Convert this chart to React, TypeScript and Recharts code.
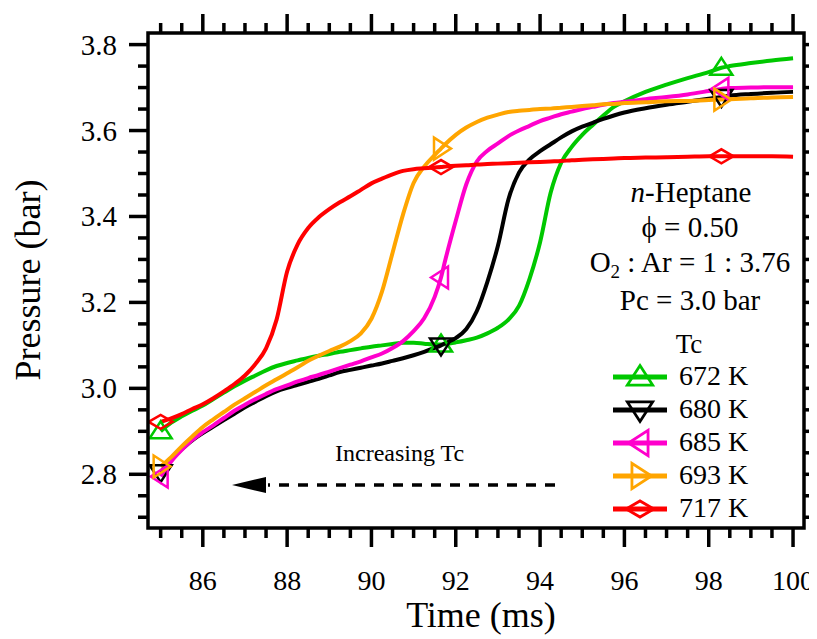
import React from 'react';
import { LineChart, Line, XAxis, YAxis } from 'recharts';

// Time (ms)
const times = [
  85, 85.25, 85.5, 85.75, 86, 86.25, 86.5, 86.75, 87, 87.25, 87.5, 87.75, 88, 88.25, 88.5, 88.75,
  89, 89.25, 89.5, 89.75, 90, 90.25, 90.5, 90.75, 91, 91.25, 91.5, 91.65, 91.75, 92, 92.25, 92.5,
  92.75, 93, 93.25, 93.5, 93.75, 94, 94.25, 94.5, 94.75, 95, 95.25, 95.5, 95.75, 96, 96.5, 97,
  97.5, 98, 98.3, 98.5, 99, 99.5, 100,
];

// Pressure (bar) per Tc
const p672 = [
  2.900, 2.920, 2.935, 2.948, 2.960, 2.975, 2.990, 3.005, 3.018, 3.030, 3.042, 3.052, 3.059, 3.065, 3.071, 3.076,
  3.080, 3.085, 3.089, 3.093, 3.097, 3.100, 3.103, 3.106, 3.106, 3.104, 3.102, 3.102, 3.103, 3.107, 3.112, 3.118,
  3.128, 3.141, 3.160, 3.192, 3.255, 3.340, 3.455, 3.525, 3.562, 3.590, 3.613, 3.635, 3.655, 3.668, 3.690, 3.707,
  3.722, 3.736, 3.746, 3.750, 3.757, 3.763, 3.768,
];
const p680 = [
  2.805, 2.835, 2.858, 2.879, 2.896, 2.911, 2.926, 2.941, 2.956, 2.969, 2.982, 2.993, 3.001, 3.008, 3.015, 3.022,
  3.030, 3.038, 3.043, 3.048, 3.053, 3.058, 3.064, 3.070, 3.077, 3.085, 3.094, 3.100, 3.105, 3.117, 3.138, 3.180,
  3.248, 3.332, 3.440, 3.502, 3.533, 3.552, 3.568, 3.584, 3.598, 3.609, 3.618, 3.627, 3.635, 3.642, 3.652, 3.660,
  3.667, 3.674, 3.678, 3.681, 3.685, 3.688, 3.690,
];
const p685 = [
  2.795, 2.830, 2.857, 2.880, 2.898, 2.914, 2.931, 2.948, 2.962, 2.975, 2.987, 2.998, 3.007, 3.016, 3.024, 3.031,
  3.039, 3.047, 3.055, 3.063, 3.072, 3.081, 3.094, 3.110, 3.133, 3.163, 3.213, 3.258, 3.298, 3.390, 3.475, 3.528,
  3.553, 3.570, 3.587, 3.600, 3.611, 3.622, 3.630, 3.638, 3.644, 3.650, 3.655, 3.660, 3.664, 3.667, 3.673, 3.678,
  3.684, 3.692, 3.697, 3.699, 3.700, 3.701, 3.701,
];
const p693 = [
  2.818, 2.840, 2.865, 2.888, 2.910, 2.928, 2.945, 2.962, 2.977, 2.992, 3.007, 3.021, 3.035, 3.049, 3.064, 3.076,
  3.087, 3.097, 3.110, 3.128, 3.162, 3.225, 3.315, 3.405, 3.478, 3.516, 3.543, 3.558, 3.568, 3.590, 3.607, 3.620,
  3.630, 3.637, 3.643, 3.646, 3.648, 3.650, 3.651, 3.653, 3.655, 3.657, 3.659, 3.661, 3.662, 3.664, 3.666, 3.668,
  3.669, 3.671, 3.672, 3.673, 3.675, 3.677, 3.678,
];
const p717 = [
  2.922, 2.930, 2.940, 2.952, 2.963, 2.977, 2.993, 3.010, 3.030, 3.057, 3.093, 3.160, 3.272, 3.335, 3.373, 3.398,
  3.417, 3.433, 3.447, 3.462, 3.477, 3.488, 3.498, 3.506, 3.510, 3.512, 3.514, 3.515, 3.516, 3.518, 3.519, 3.521,
  3.522, 3.523, 3.524, 3.525, 3.526, 3.527, 3.528, 3.529, 3.531, 3.532, 3.533, 3.534, 3.535, 3.536, 3.537, 3.538,
  3.539, 3.540, 3.540, 3.540, 3.540, 3.540, 3.539,
];

const markerTimes = [85, 91.65, 98.3];

const xTicks = [
  85, 85.5, 86, 86.5, 87, 87.5, 88, 88.5, 89, 89.5, 90, 90.5, 91, 91.5, 92, 92.5,
  93, 93.5, 94, 94.5, 95, 95.5, 96, 96.5, 97, 97.5, 98, 98.5, 99, 99.5, 100,
];
const yTicks = [
  2.7, 2.75, 2.8, 2.85, 2.9, 2.95, 3.0, 3.05, 3.1, 3.15, 3.2, 3.25, 3.3, 3.35, 3.4, 3.45,
  3.5, 3.55, 3.6, 3.65, 3.7, 3.75, 3.8,
];

const legendLabels = ['672 K', '680 K', '685 K', '693 K', '717 K'];
const seriesKeys = ['k672', 'k680', 'k685', 'k693', 'k717'];
const seriesColors = ['#00C800', '#000000', '#FF00CC', '#FFA500', '#FF0000'];
const seriesShapes = ['up', 'down', 'left', 'right', 'diamond'];

const data = times.map((t, i) => ({
  t,
  k672: p672[i],
  k680: p680[i],
  k685: p685[i],
  k693: p693[i],
  k717: p717[i],
}));

const FONT = 'Liberation Serif';
const W = 809;
const H = 631;

function markerPoints(shape: string, cx: number, cy: number, s: number): string {
  let pts: number[][];
  switch (shape) {
    case 'up':
      pts = [[0, -10], [11, 7], [-11, 7]];
      break;
    case 'down':
      pts = [[0, 10], [11, -7], [-11, -7]];
      break;
    case 'left':
      pts = [[-10, 0], [7, -11], [7, 11]];
      break;
    case 'right':
      pts = [[10, 0], [-7, -11], [-7, 11]];
      break;
    default:
      pts = [[-12, 0], [0, -7], [12, 0], [0, 7]];
  }
  return pts.map(([dx, dy]) => `${cx + dx * s},${cy + dy * s}`).join(' ');
}

const makeDot = (shape: string, color: string) => (props: any) => {
  const { cx, cy, payload, index } = props;
  if (cx == null || cy == null || !payload || !markerTimes.includes(payload.t)) {
    return <g key={`d-${index}`} />;
  }
  return (
    <polygon
      key={`d-${index}`}
      points={markerPoints(shape, cx, cy, 1)}
      fill="none"
      stroke={color}
      strokeWidth={2.5}
      strokeLinejoin="miter"
    />
  );
};

const isMajorX = (v: number) => Math.abs(v / 2 - Math.round(v / 2)) < 1e-6;
const isMajorY = (v: number) => Math.abs(v * 5 - Math.round(v * 5)) < 1e-6;

const BottomTick = (props: any) => {
  const { x, y, payload } = props;
  const v = payload.value;
  const maj = isMajorX(v);
  return (
    <g>
      <line x1={x} x2={x} y1={y} y2={y + (maj ? 19 : 10)} stroke="#000" strokeWidth={3.5} />
      {maj ? (
        <text x={x} y={y + 62} textAnchor="middle" fontFamily={FONT} fontSize={28} fill="#000">
          {String(v)}
        </text>
      ) : null}
    </g>
  );
};

const TopTick = (props: any) => {
  const { x, y, payload } = props;
  const maj = isMajorX(payload.value);
  return <line x1={x} x2={x} y1={y} y2={y - (maj ? 19 : 10)} stroke="#000" strokeWidth={3.5} />;
};

const LeftTick = (props: any) => {
  const { x, y, payload } = props;
  const v = payload.value;
  const maj = isMajorY(v);
  return (
    <g>
      <line x1={x} x2={x - (maj ? 19 : 10)} y1={y} y2={y} stroke="#000" strokeWidth={3.5} />
      {maj ? (
        <text x={x - 31} y={y + 10} textAnchor="end" fontFamily={FONT} fontSize={29} fill="#000">
          {v.toFixed(1)}
        </text>
      ) : null}
    </g>
  );
};

const RightTick = (props: any) => {
  const { x, y, payload } = props;
  const maj = isMajorY(payload.value);
  return <line x1={x} x2={x + (maj ? 19 : 10)} y1={y} y2={y} stroke="#000" strokeWidth={3.5} />;
};

const X_DOMAIN: [number, number] = [84.7, 100.26];
const Y_DOMAIN: [number, number] = [2.675, 3.827];

const PLOT_L = 140;
const PLOT_T = 25;
const PLOT_R = 796;
const PLOT_B = 520;

export default function App() {
  const legendBase = [377, 410, 443, 476, 509];
  return (
    <div style={{ position: 'relative', width: W, height: H, background: '#fff', fontFamily: FONT }}>
      <LineChart width={W} height={H} data={data} margin={{ top: 0, right: 0, bottom: 0, left: 0 }}>
        <XAxis
          xAxisId="b"
          dataKey="t"
          type="number"
          domain={X_DOMAIN}
          allowDataOverflow
          ticks={xTicks}
          interval={0}
          tick={BottomTick}
          tickLine={false}
          axisLine={false}
          tickSize={0}
          tickMargin={0}
          height={H - PLOT_B}
        />
        <XAxis
          xAxisId="t"
          orientation="top"
          dataKey="t"
          type="number"
          domain={X_DOMAIN}
          allowDataOverflow
          ticks={xTicks}
          interval={0}
          tick={TopTick}
          tickLine={false}
          axisLine={false}
          tickSize={0}
          tickMargin={0}
          height={PLOT_T}
        />
        <YAxis
          yAxisId="l"
          type="number"
          domain={Y_DOMAIN}
          allowDataOverflow
          ticks={yTicks}
          interval={0}
          tick={LeftTick}
          tickLine={false}
          axisLine={false}
          tickSize={0}
          tickMargin={0}
          width={PLOT_L}
        />
        <YAxis
          yAxisId="r"
          orientation="right"
          type="number"
          domain={Y_DOMAIN}
          allowDataOverflow
          ticks={yTicks}
          interval={0}
          tick={RightTick}
          tickLine={false}
          axisLine={false}
          tickSize={0}
          tickMargin={0}
          width={W - PLOT_R}
        />
        {seriesKeys.map((k, i) => (
          <Line
            key={k}
            xAxisId="b"
            yAxisId="l"
            type="monotone"
            dataKey={k}
            stroke={seriesColors[i]}
            strokeWidth={4}
            dot={makeDot(seriesShapes[i], seriesColors[i])}
            activeDot={false}
            isAnimationActive={false}
          />
        ))}
      </LineChart>
      <svg
        width={W}
        height={H}
        style={{ position: 'absolute', left: 0, top: 0, pointerEvents: 'none' }}
      >
        <rect
          x={PLOT_L}
          y={PLOT_T}
          width={PLOT_R - PLOT_L}
          height={PLOT_B - PLOT_T}
          fill="none"
          stroke="#000"
          strokeWidth={3.5}
        />
        <text
          transform="translate(32,272) rotate(-90)"
          textAnchor="middle"
          fontFamily={FONT}
          fontSize={36}
          fill="#000"
        >
          Pressure (bar)
        </text>
        <text x={473} y={619} textAnchor="middle" fontFamily={FONT} fontSize={36} fill="#000">
          Time (ms)
        </text>

        <g fontFamily={FONT} fontSize={29} fill="#000" textAnchor="middle">
          <text x={683} y={194}>
            <tspan fontStyle="italic">n</tspan>-Heptane
          </text>
          <text x={682} y={229}>ϕ = 0.50</text>
          <text x={682} y={264}>
            O<tspan fontSize={19} dy={6}>2</tspan>
            <tspan dy={-6}> : Ar = 1 : 3.76</tspan>
          </text>
          <text x={682} y={302}>Pc = 3.0 bar</text>
          <text x={681} y={345} fontSize={27}>Tc</text>
        </g>

        {legendLabels.map((lab, i) => (
          <g key={lab}>
            <line
              x1={605}
              x2={659}
              y1={legendBase[i] - 8}
              y2={legendBase[i] - 8}
              stroke={seriesColors[i]}
              strokeWidth={5}
            />
            <polygon
              points={markerPoints(seriesShapes[i], 632, legendBase[i] - 8, 1.15)}
              fill="none"
              stroke={seriesColors[i]}
              strokeWidth={2.8}
            />
            <text x={671} y={legendBase[i]} fontFamily={FONT} fontSize={28} fill="#000">
              {lab}
            </text>
          </g>
        ))}

        <text x={327} y={453} fontFamily={FONT} fontSize={24} fill="#000">
          Increasing Tc
        </text>
        <line
          x1={547}
          x2={260}
          y1={477}
          y2={477}
          stroke="#000"
          strokeWidth={3.5}
          strokeDasharray="10 9"
        />
        <polygon points="224,477 258,469 258,485" fill="#000" />
      </svg>
    </div>
  );
}
